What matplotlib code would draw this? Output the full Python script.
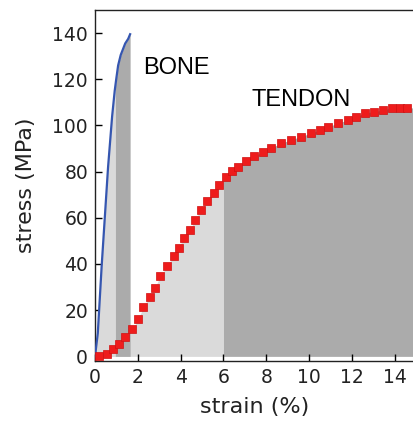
import numpy as np
import matplotlib
matplotlib.use("Agg")
import matplotlib.pyplot as plt

# Bone curve (blue line)
bone_strain = [0.0, 0.13, 0.31, 0.61, 0.8, 0.92, 0.99, 1.08, 1.2, 1.41, 1.55, 1.64]
bone_stress = [0.0, 10.0, 39.0, 82.0, 104.0, 115.0, 120.0, 126.0, 130.5, 135.5, 137.5, 139.5]

# Tendon curve (red squares)
tendon_strain = [0.2, 0.55, 0.86, 1.14, 1.41, 1.72, 2.03, 2.24, 2.55, 2.8,
                 3.05, 3.36, 3.67, 3.9, 4.15, 4.43, 4.69, 4.93, 5.24, 5.55,
                 5.79, 6.1, 6.42, 6.7, 7.04, 7.42, 7.83, 8.2, 8.7, 9.15,
                 9.62, 10.1, 10.5, 10.9, 11.35, 11.8, 12.2, 12.6, 13.05, 13.46,
                 13.85, 14.24, 14.55]
tendon_stress = [0.0, 0.9, 3.0, 5.2, 8.2, 11.7, 16.0, 21.2, 25.9, 29.8,
                 34.7, 39.0, 43.4, 47.0, 51.3, 54.9, 59.2, 63.5, 67.1, 70.7,
                 74.3, 77.5, 80.1, 82.2, 84.4, 86.6, 88.7, 90.2, 92.3, 93.8,
                 95.2, 96.7, 98.1, 99.5, 101.0, 102.4, 103.8, 105.4, 106.0, 106.7,
                 107.6, 107.6, 107.6]

bone_split = 0.95
tendon_split = 6.0

x_ticks = [0, 2, 4, 6, 8, 10, 12, 14]
y_ticks = [0, 20, 40, 60, 80, 100, 120, 140]

light = "#dadada"
dark = "#ababab"

fig = plt.figure(figsize=(4.14, 4.26), dpi=100)
ax = fig.add_axes([0.2295, 0.1526, 0.7705, 0.824])

# Tendon fills
ts = np.array(tendon_strain)
tv = np.array(tendon_stress)
xs_t = np.concatenate([[0.0], ts, [14.9]])
ys_t = np.concatenate([[0.0], tv, [tv[-1]]])
xl2 = np.linspace(0, tendon_split, 200)
ax.fill_between(xl2, 0, np.interp(xl2, xs_t, ys_t), color=light, lw=0, zorder=1)
xl = np.linspace(tendon_split, 14.9, 200)
ax.fill_between(xl, 0, np.interp(xl, xs_t, ys_t), color=dark, lw=0, zorder=1)

# Bone fills
bs = np.array(bone_strain)
bv = np.array(bone_stress)
xb1 = np.linspace(0, bone_split, 100)
ax.fill_between(xb1, 0, np.interp(xb1, bs, bv), color=light, lw=0, zorder=2)
xb2 = np.linspace(bone_split, bs[-1], 100)
ax.fill_between(xb2, 0, np.interp(xb2, bs, bv), color=dark, lw=0, zorder=2)

ax.plot(bone_strain, bone_stress, color="#3556b0", lw=1.6, zorder=4)
ax.plot(tendon_strain, tendon_stress, ls="none", marker="s", ms=5.8,
        mfc="#ee1c1c", mec="#d01010", mew=0.5, zorder=5)

ax.text(2.25, 125, "BONE", fontsize=17, family="Liberation Sans",
        va="center", ha="left")
ax.text(7.3, 111, "TENDON", fontsize=17, family="Liberation Sans",
        va="center", ha="left")

ax.set_xlim(0, 14.9)
ax.set_ylim(-2, 150)
ax.set_xticks(x_ticks)
ax.set_yticks(y_ticks)
ax.tick_params(direction="in", length=5, width=1, labelsize=13.5, pad=5,
               labelcolor="#222222")
ax.spines["right"].set_visible(False)
for s in ["left", "bottom", "top"]:
    ax.spines[s].set_linewidth(1.0)
    ax.spines[s].set_color("#222222")

ax.set_xlabel("strain (%)", fontsize=16, labelpad=7, color="#222222")
ax.set_ylabel("stress (MPa)", fontsize=16, labelpad=12, color="#222222")

fig.savefig("out.png", dpi=100)
